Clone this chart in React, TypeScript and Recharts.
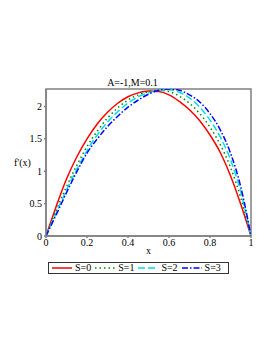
import { LineChart, Line, XAxis, YAxis, Label, ReferenceArea } from "recharts";

// x grid and f'(x) for S = 0..3
const xs = [0, 0.05, 0.1, 0.15, 0.2, 0.25, 0.3, 0.35, 0.4, 0.45, 0.5, 0.55, 0.6, 0.65, 0.7, 0.75, 0.8, 0.85, 0.9, 0.95, 1];
const s0 = [0, 0.46, 0.88, 1.22, 1.5, 1.73, 1.91, 2.05, 2.15, 2.21, 2.24, 2.23, 2.18, 2.08, 1.95, 1.78, 1.56, 1.29, 0.93, 0.49, 0];
const s1 = [0, 0.4, 0.76, 1.09, 1.38, 1.62, 1.82, 1.98, 2.1, 2.18, 2.23, 2.25, 2.23, 2.16, 2.05, 1.89, 1.68, 1.41, 1.06, 0.59, 0];
const s2 = [0, 0.36, 0.71, 1.03, 1.32, 1.56, 1.76, 1.92, 2.05, 2.15, 2.21, 2.25, 2.26, 2.22, 2.13, 1.99, 1.79, 1.53, 1.18, 0.68, 0];
const s3 = [0, 0.33, 0.67, 0.99, 1.28, 1.5, 1.69, 1.85, 1.99, 2.1, 2.19, 2.25, 2.27, 2.25, 2.18, 2.07, 1.89, 1.64, 1.28, 0.76, 0];
const xTicks = [0, 0.2, 0.4, 0.6, 0.8, 1];
const yTicks = [0, 0.5, 1, 1.5, 2];

const series = [
  { key: "s0", name: "S=0", color: "#ff0000", dash: undefined },
  { key: "s1", name: "S=1", color: "#008800", dash: "1.5 3" },
  { key: "s2", name: "S=2", color: "#00e0e0", dash: "7 3" },
  { key: "s3", name: "S=3", color: "#0000ff", dash: "6 2 1.5 2" },
];

const data = xs.map((x, i) => ({ x, s0: s0[i], s1: s1[i], s2: s2[i], s3: s3[i] }));

const font = "'Liberation Serif', 'DejaVu Serif', serif";
const tickStyle = { fontSize: 10, fill: "#000", fontFamily: font };
const labelStyle = { fontSize: 10, fill: "#000", fontFamily: font };

const LegendBox = () => (
  <div style={{ display: "flex", alignItems: "center", border: "1px solid #333", height: 10, padding: "0 3px", fontFamily: font, fontSize: 10, lineHeight: "10px", background: "#fff" }}>
    {series.map((s) => (
      <span key={s.key} style={{ display: "flex", alignItems: "center", marginRight: 4 }}>
        <svg width={20} height={6}>
          <line x1={0} y1={3} x2={20} y2={3} stroke={s.color} strokeWidth={1.5} strokeDasharray={s.dash} />
        </svg>
        <span style={{ marginLeft: 3 }}>{s.name}</span>
      </span>
    ))}
  </div>
);

export default function App() {
  return (
    <div style={{ position: "absolute", left: 0, top: 0, width: 273, height: 353, background: "#fff" }}>
      <div style={{ position: "absolute", left: -4, width: 273, top: 77, textAlign: "center", fontFamily: font, fontSize: 10, lineHeight: "11px", zIndex: 2 }}>
        A=-1,M=0.1
      </div>
      <LineChart width={273} height={353} data={data} margin={{ top: 89, right: 22, bottom: 97, left: 14 }}>
        <XAxis
          dataKey="x"
          type="number"
          domain={[0, 1]}
          ticks={xTicks}
          tickSize={2}
          tickMargin={1}
          tick={tickStyle}
          stroke="#808080"
          strokeWidth={1.5}
          height={20}
          allowDataOverflow
        >
          <Label value="x" position="insideBottom" offset={2} style={labelStyle} />
        </XAxis>
        <YAxis
          type="number"
          domain={[0, 2.27]}
          ticks={yTicks}
          tickSize={2}
          tickMargin={2}
          tick={tickStyle}
          stroke="#808080"
          strokeWidth={1.5}
          width={32}
          allowDataOverflow
        >
          <Label value="f'(x)" position="insideLeft" offset={0} style={labelStyle} />
        </YAxis>
        <ReferenceArea x1={0} x2={1} y1={0} y2={2.27} fill="none" stroke="#808080" strokeWidth={1.5} ifOverflow="visible" />
        {series.map((s) => (
          <Line
            key={s.key}
            type="monotone"
            dataKey={s.key}
            name={s.name}
            stroke={s.color}
            strokeWidth={1.5}
            strokeDasharray={s.dash}
            dot={false}
            isAnimationActive={false}
          />
        ))}
      </LineChart>
      <div style={{ position: "absolute", left: 48, top: 262 }}>
        <LegendBox />
      </div>
    </div>
  );
}
